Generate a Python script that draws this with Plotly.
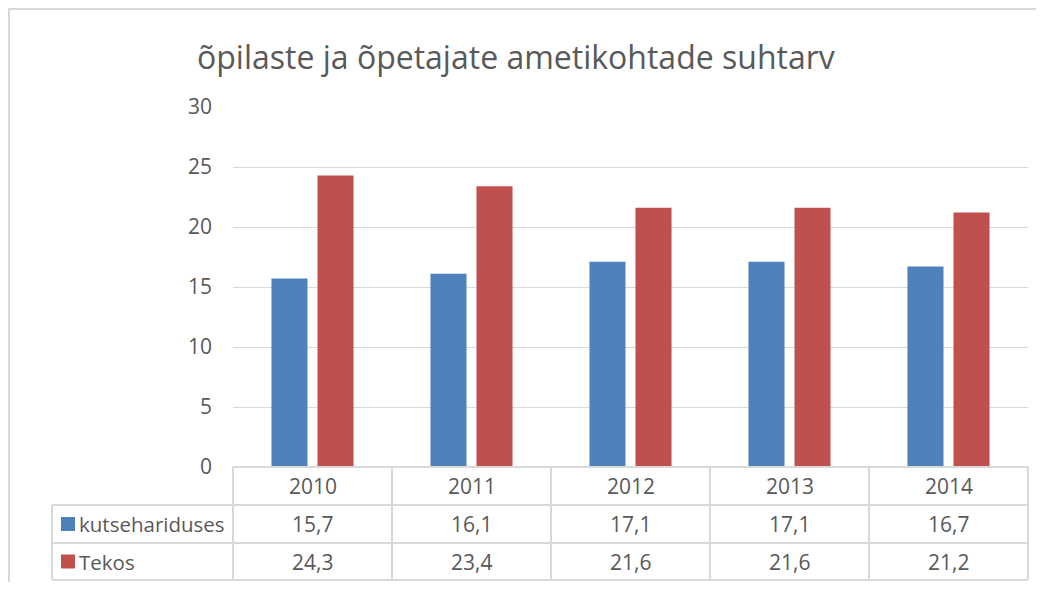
import plotly.graph_objects as go

years = ["2010", "2011", "2012", "2013", "2014"]
kutse = [15.7, 16.1, 17.1, 17.1, 16.7]
tekos = [24.3, 23.4, 21.6, 21.6, 21.2]
series_names = ["kutsehariduses", "Tekos"]
colors = ["#4f81bd", "#c0504d"]
title_text = "õpilaste ja õpetajate ametikohtade suhtarv"

OFF = 8  # default page body margin
W, H = 1036, 574
# plot area in page pixels
PL, PR, PT, PB = 233, 1028, 107, 467
L, R, T, B = PL - OFF, PR - OFF, PT - OFF, PB - OFF

def px(x):  # page x -> paper
    return (x - PL) / (PR - PL)

def py(y):  # page y -> paper
    return (PB - y) / (PB - PT)

fig = go.Figure()
for name, vals, col in zip(series_names, [kutse, tekos], colors):
    fig.add_trace(go.Bar(x=years, y=vals, name=name, marker=dict(color=col, line=dict(width=0))))

grid = "#d9d9d9"
txt = "#595959"
font = "Open Sans"
shapes = []
ann = []

# table rows
row_y = [467, 505, 543, 580]
shapes.append(dict(type="line", xref="paper", yref="paper", x0=px(PL), x1=px(PR), y0=py(467), y1=py(467), line=dict(color=grid, width=2)))
for yy in row_y[1:]:
    shapes.append(dict(type="line", xref="paper", yref="paper", x0=px(52), x1=px(PR), y0=py(yy), y1=py(yy), line=dict(color=grid, width=2)))
shapes.append(dict(type="line", xref="paper", yref="paper", x0=px(52), x1=px(52), y0=py(505), y1=py(580), line=dict(color=grid, width=2)))
ncat = len(years)
for i in range(ncat + 1):
    xb = i / ncat
    shapes.append(dict(type="line", xref="paper", yref="paper", x0=xb, x1=xb, y0=py(467), y1=py(580), line=dict(color=grid, width=2)))

# year header
for i, yr in enumerate(years):
    ann.append(dict(x=(i + 0.5) / ncat, y=py(486), xref="paper", yref="paper", text=yr, showarrow=False,
                    font=dict(size=21, color=txt, family=font), xanchor="center", yanchor="middle"))
# values
for r, (name, vals, col) in enumerate(zip(series_names, [kutse, tekos], colors)):
    yc = 524 + r * 37.5
    for i, v in enumerate(vals):
        ann.append(dict(x=(i + 0.5) / ncat, y=py(yc), xref="paper", yref="paper", text=f"{v:.1f}".replace(".", ","),
                        showarrow=False, font=dict(size=21, color=txt, family=font), xanchor="center", yanchor="middle"))
    shapes.append(dict(type="rect", xref="paper", yref="paper", x0=px(61), x1=px(75), y0=py(yc - 7), y1=py(yc + 7),
                       fillcolor=col, line=dict(width=0)))
    ann.append(dict(x=px(77), y=py(yc), xref="paper", yref="paper", text=name, showarrow=False,
                    font=dict(size=20.5, color=txt, family=font), xanchor="left", yanchor="middle"))

# outer frame
shapes.append(dict(type="rect", xref="paper", yref="paper", x0=px(OFF + 1), x1=px(1080), y0=py(OFF + 1), y1=py(640),
                   line=dict(color="#d9d9d9", width=2), fillcolor="rgba(0,0,0,0)"))

# title
ann.append(dict(x=px(516), y=py(56), xref="paper", yref="paper", text=title_text, showarrow=False,
                font=dict(size=32, color=txt, family=font), xanchor="center", yanchor="middle"))

fig.update_layout(
    width=W, height=H,
    margin=dict(l=L, r=W - R, t=T, b=H - B, pad=0),
    paper_bgcolor="white", plot_bgcolor="white",
    barmode="group", bargap=0.421, bargroupgap=0.217,
    showlegend=False,
    shapes=shapes, annotations=ann,
    xaxis=dict(showticklabels=False, showgrid=False, zeroline=False, showline=False, ticks="", range=[-0.5, 4.5]),
    yaxis=dict(range=[0, 30], dtick=5, showgrid=True, gridcolor=grid, gridwidth=1, zeroline=False, showline=False,
               tickfont=dict(size=21, color=txt, family=font), ticks="", ticklabelstandoff=20),
)

fig.write_html("out.html")
